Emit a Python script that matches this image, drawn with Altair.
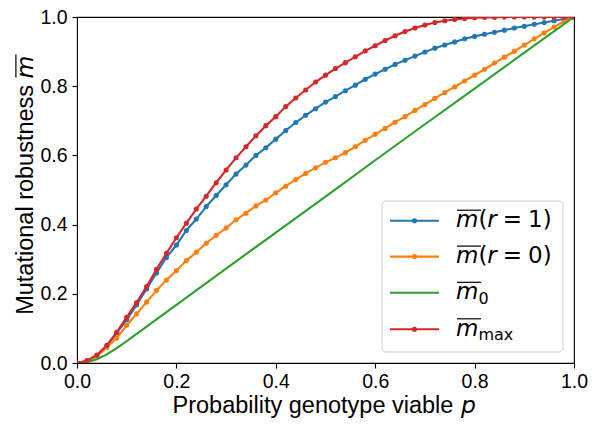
import altair as alt
import pandas as pd

# ---------------- data ----------------
p_grid = [0.00, 0.02, 0.04, 0.06, 0.08, 0.10, 0.12, 0.14, 0.16, 0.18,
          0.20, 0.22, 0.24, 0.26, 0.28, 0.30, 0.32, 0.34, 0.36, 0.38,
          0.40, 0.42, 0.44, 0.46, 0.48, 0.50, 0.52, 0.54, 0.56, 0.58,
          0.60, 0.62, 0.64, 0.66, 0.68, 0.70, 0.72, 0.74, 0.76, 0.78,
          0.80, 0.82, 0.84, 0.86, 0.88, 0.90, 0.92, 0.94, 0.96, 0.98, 1.00]

m_r1 = [0.000, 0.005, 0.021, 0.048, 0.087, 0.125, 0.168, 0.214, 0.260, 0.305,
        0.341, 0.383, 0.416, 0.452, 0.484, 0.515, 0.546, 0.572, 0.600, 0.622,
        0.647, 0.672, 0.695, 0.716, 0.735, 0.754, 0.770, 0.787, 0.803, 0.820,
        0.835, 0.849, 0.863, 0.875, 0.887, 0.899, 0.910, 0.919, 0.928, 0.937,
        0.944, 0.950, 0.956, 0.962, 0.968, 0.973, 0.979, 0.984, 0.989, 0.994, 1.000]

m_r0 = [0.000, 0.005, 0.020, 0.045, 0.072, 0.109, 0.142, 0.176, 0.210, 0.240,
        0.267, 0.296, 0.320, 0.346, 0.369, 0.390, 0.414, 0.433, 0.454, 0.471,
        0.492, 0.511, 0.530, 0.548, 0.564, 0.580, 0.593, 0.608, 0.625, 0.644,
        0.661, 0.678, 0.696, 0.712, 0.730, 0.747, 0.765, 0.782, 0.798, 0.815,
        0.832, 0.849, 0.867, 0.884, 0.901, 0.919, 0.937, 0.954, 0.971, 0.987, 1.000]

m_max = [0.000, 0.007, 0.023, 0.051, 0.089, 0.132, 0.175, 0.221, 0.271, 0.317,
         0.362, 0.404, 0.445, 0.482, 0.521, 0.558, 0.593, 0.625, 0.657, 0.686,
         0.712, 0.741, 0.766, 0.789, 0.812, 0.832, 0.851, 0.868, 0.885, 0.902,
         0.917, 0.932, 0.946, 0.958, 0.968, 0.977, 0.984, 0.989, 0.993, 0.996,
         0.998, 0.999, 0.999, 1.000, 1.000, 1.000, 1.000, 1.000, 1.000, 1.000, 1.000]

p_m0 = [0.00, 0.02, 0.04, 0.06, 0.08, 0.10, 0.12, 0.14, 0.16, 0.18, 0.20,
        0.30, 0.40, 0.50, 0.60, 0.70, 0.80, 0.90, 1.00]
m_0 = [0.000, 0.002, 0.011, 0.025, 0.043, 0.063, 0.084, 0.105, 0.126, 0.147, 0.168,
       0.273, 0.377, 0.481, 0.586, 0.690, 0.793, 0.897, 1.000]

tick_values = [0.0, 0.2, 0.4, 0.6, 0.8, 1.0]

C_BLUE, C_ORANGE, C_GREEN, C_RED = "#1f77b4", "#ff7f0e", "#2ca02c", "#d62728"

# ---------------- layout constants ----------------
W, H = 497, 346
PAD_L, PAD_T = 77, 17
LW = 2.1
MSIZE = 26
SANS = "Liberation Sans"
MATH = "DejaVu Sans"

xscale = alt.Scale(domain=[0, 1], nice=False, zero=False)
yscale = alt.Scale(domain=[0, 1], nice=False, zero=False)
xaxis = alt.Axis(values=tick_values, format=".1f", title=None, labelPadding=4,
                 labelOverlap=False, labelFlush=False)
yaxis = alt.Axis(values=tick_values, format=".1f", title=None, labelPadding=5,
                 labelOverlap=False, labelFlush=False)


def series_layers(pv, mv, color, markers=True):
    df = pd.DataFrame({"p": pv, "m": mv})
    base = alt.Chart(df).encode(
        x=alt.X("p:Q", scale=xscale, axis=xaxis),
        y=alt.Y("m:Q", scale=yscale, axis=yaxis),
    )
    out = [base.mark_line(color=color, strokeWidth=LW, clip=True)]
    if markers:
        out.append(base.mark_circle(color=color, size=MSIZE, opacity=1, clip=True))
    return out


layers = []
layers += series_layers(p_grid, m_r1, C_BLUE)
layers += series_layers(p_grid, m_r0, C_ORANGE)
layers += series_layers(p_m0, m_0, C_GREEN, markers=False)
layers += series_layers(p_grid, m_max, C_RED)

one = pd.DataFrame({"k": [0]})


def txt(s, x, y, font=SANS, size=22, italic=False, angle=0, align="left"):
    kw = dict(text=s, font=font, fontSize=size, align=align,
              baseline="alphabetic", color="black")
    if italic:
        kw["fontStyle"] = "italic"
    if angle:
        kw["angle"] = angle
    return alt.Chart(one).mark_text(**kw).encode(x=alt.value(x), y=alt.value(y))


def hrule(x1, x2, y, color="black", width=1.2):
    return alt.Chart(one).mark_rule(color=color, strokeWidth=width).encode(
        x=alt.value(x1), x2=alt.value(x2), y=alt.value(y))


def vrule(x, y1, y2, color="black", width=1.2):
    return alt.Chart(one).mark_rule(color=color, strokeWidth=width).encode(
        x=alt.value(x), y=alt.value(y1), y2=alt.value(y2))


def dot(x, y, color):
    return alt.Chart(one).mark_circle(color=color, size=MSIZE, opacity=1).encode(
        x=alt.value(x), y=alt.value(y))


# ---------------- legend ----------------
box = alt.Chart(one).mark_rect(fill="white", fillOpacity=0.8, stroke="#cccccc",
                               strokeWidth=1, cornerRadius=4).encode(
    x=alt.value(305), x2=alt.value(486), y=alt.value(184), y2=alt.value(335))
layers.append(box)

FS = 23
SUB = 16
em = {"m": 0.974, "(": 0.390, "r": 0.411, "=": 0.838, "1": 0.636, "0": 0.636, ")": 0.390}
row_c = [203.7, 239.6, 275.8, 312.3]
entries = [
    (C_BLUE, True, "1"),
    (C_ORANGE, True, "0"),
    (C_GREEN, False, "sub0"),
    (C_RED, True, "submax"),
]
x0 = 379
for (color, has_dot, kind), yc in zip(entries, row_c):
    layers.append(hrule(313, 362, yc, color=color, width=LW))
    if has_dot:
        layers.append(dot(337.5, yc, color))
    base_y = yc + 6.5
    layers.append(txt("m", x0, base_y, font=MATH, size=FS, italic=True))
    layers.append(hrule(x0 + 1, x0 + 25, yc - 10.5, width=1.2))
    xa = x0 + em["m"] * FS
    if kind in ("1", "0"):
        layers.append(txt("(", xa, base_y, font=MATH, size=FS))
        xa += em["("] * FS
        layers.append(txt("r", xa, base_y, font=MATH, size=FS, italic=True))
        xa += em["r"] * FS + 6
        layers.append(txt("=", xa, base_y, font=MATH, size=FS))
        xa += em["="] * FS + 6
        layers.append(txt(kind + ")", xa, base_y, font=MATH, size=FS))
    elif kind == "sub0":
        layers.append(txt("0", xa, base_y + 4.5, font=MATH, size=SUB))
    else:
        layers.append(txt("max", xa, base_y + 4.5, font=MATH, size=SUB))

# ---------------- axis titles ----------------
TF = 23.5
layers.append(txt("Probability genotype viable", 95.5, 395.7, font=SANS, size=TF))
layers.append(txt("p", 384, 395.7, font=MATH, size=TF, italic=True))

layers.append(txt("Mutational robustness", -43.7, 297.8, font=SANS, size=TF, angle=270))
my0 = 61.4
layers.append(txt("m", -43.7, my0, font=MATH, size=TF, italic=True, angle=270))
layers.append(vrule(-61.1, my0 - 1, my0 - 24))

chart = alt.layer(*layers).properties(
    width=W, height=H,
    padding={"left": PAD_L, "top": PAD_T, "right": 18, "bottom": 62},
    autosize=alt.AutoSizeParams(type="none"),
).configure_view(
    stroke="black", strokeWidth=1.1
).configure_axis(
    domain=False, grid=False, ticks=True, tickColor="black", tickWidth=1.1,
    tickSize=5, labelFont=SANS, labelFontSize=19.5, labelColor="black",
)

chart.save("out.html", embed_options={"renderer": "svg", "actions": False})
